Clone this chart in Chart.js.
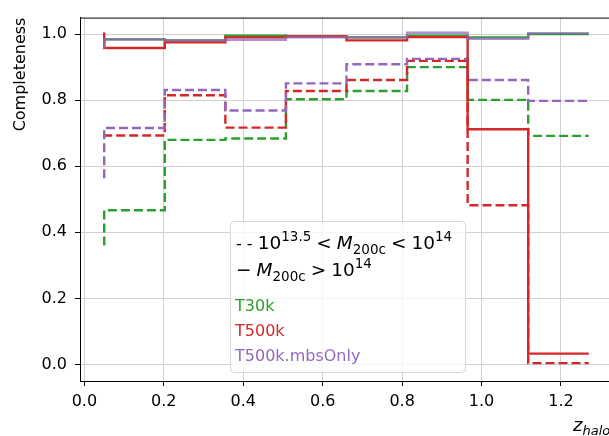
<!DOCTYPE html>
<html>
<head>
<meta charset="utf-8">
<script src="https://cdn.jsdelivr.net/npm/chart.js@4.4.1/dist/chart.umd.min.js"></script>
<style>
  html, body { margin: 0; padding: 0; background: #fff; overflow: hidden; }
  #wrap { position: relative; width: 640px; height: 436px; }
</style>
</head>
<body>
<div id="wrap"><canvas id="c" width="640" height="436"></canvas></div>
<script>
// ---- data ----
const binEdges = [0.05, 0.2025, 0.355, 0.5075, 0.66, 0.8125, 0.965, 1.1175, 1.27];
// first value = start of the step line at the first edge, then one value per bin
const t30kHigh   = [0.975, 0.984, 0.981, 0.995, 0.993, 0.990, 0.995, 0.990, 1.000];
const t500kHigh  = [1.005, 0.958, 0.975, 0.990, 0.993, 0.981, 0.991, 0.712, 0.033];
const mbsHigh    = [0.955, 0.984, 0.981, 0.983, 0.990, 0.990, 1.004, 0.986, 1.003];
const t30kMid    = [0.360, 0.467, 0.680, 0.684, 0.803, 0.828, 0.900, 0.801, 0.692];
const t500kMid   = [0.690, 0.693, 0.815, 0.717, 0.828, 0.861, 0.919, 0.482, 0.004];
const mbsMid     = [0.564, 0.716, 0.831, 0.769, 0.851, 0.909, 0.925, 0.861, 0.798];
const xTickValues = [0.0, 0.2, 0.4, 0.6, 0.8, 1.0, 1.2];
const xTickLabels = ['0.0', '0.2', '0.4', '0.6', '0.8', '1.0', '1.2'];
const yTickValues = [0.0, 0.2, 0.4, 0.6, 0.8, 1.0];
const yTickLabels = ['0.0', '0.2', '0.4', '0.6', '0.8', '1.0'];
const seriesNames = ['T30k', 'T500k', 'T500k.mbsOnly'];

const GREEN = '#2ca02c', RED = '#d62728', PURPLE = '#9467bd';
const FONT = 'DejaVu Sans';

function pts(ys) { return binEdges.map((x, i) => ({x: x, y: ys[i]})); }
function ds(label, ys, color, dashed) {
  return {
    label: label, data: pts(ys), borderColor: color, backgroundColor: color,
    borderWidth: 2.4, borderDash: dashed ? [9, 4] : [], stepped: 'after',
    pointRadius: 0, fill: false, tension: 0
  };
}

function drawRich(ctx, x, y, segs, color) {
  ctx.save();
  ctx.fillStyle = color;
  ctx.textBaseline = 'alphabetic';
  ctx.textAlign = 'left';
  let cx = x;
  for (const s of segs) {
    cx += (s.pre || 0);
    ctx.font = s.f;
    ctx.fillText(s.t, cx, y + (s.dy || 0));
    cx += ctx.measureText(s.t).width + (s.sp || 0);
  }
  ctx.restore();
}

const decor = {
  id: 'decor',
  afterDatasetsDraw(chart) {
    const ctx = chart.ctx, a = chart.chartArea;
    // top spine
    ctx.save();
    ctx.strokeStyle = '#000'; ctx.lineWidth = 1;
    ctx.beginPath();
    ctx.moveTo(a.left, a.top + 0.5); ctx.lineTo(a.right, a.top + 0.5);
    ctx.stroke();
    ctx.restore();

    // legend box
    const bx = 230.5, by = 221.5, bw = 235, bh = 151, r = 4;
    ctx.save();
    ctx.beginPath();
    ctx.moveTo(bx + r, by); ctx.lineTo(bx + bw - r, by); ctx.arcTo(bx + bw, by, bx + bw, by + r, r);
    ctx.lineTo(bx + bw, by + bh - r); ctx.arcTo(bx + bw, by + bh, bx + bw - r, by + bh, r);
    ctx.lineTo(bx + r, by + bh); ctx.arcTo(bx, by + bh, bx, by + bh - r, r);
    ctx.lineTo(bx, by + r); ctx.arcTo(bx, by, bx + r, by, r);
    ctx.closePath();
    ctx.fillStyle = 'rgba(255,255,255,0.8)'; ctx.fill();
    ctx.strokeStyle = '#d6d6d6'; ctx.lineWidth = 1; ctx.stroke();
    ctx.restore();

    const big = '16px ' + FONT, mbig = '18.5px ' + FONT, sm = '13.5px ' + FONT,
          it = 'italic 18.5px ' + FONT;
    drawRich(ctx, 236, 249, [
      {t: '- - ', f: big},
      {t: '10', f: mbig}, {t: '13.5', f: sm, dy: -8},
      {t: '<', f: mbig, pre: 5, sp: 5},
      {t: 'M', f: it}, {t: '200c', f: sm, dy: 4.5},
      {t: '<', f: mbig, pre: 5, sp: 5},
      {t: '10', f: mbig}, {t: '14', f: sm, dy: -8}
    ], '#000');
    drawRich(ctx, 236, 276, [
      {t: '\u2212', f: mbig, sp: 5},
      {t: 'M', f: it}, {t: '200c', f: sm, dy: 4.5},
      {t: '>', f: mbig, pre: 5, sp: 5},
      {t: '10', f: mbig}, {t: '14', f: sm, dy: -8}
    ], '#000');
    const cols = [GREEN, RED, PURPLE];
    const ys = [311, 336, 361];
    seriesNames.forEach((n, i) => drawRich(ctx, 235, ys[i], [{t: n, f: big}], cols[i]));

    // y axis label (aligned to top of axes)
    ctx.save();
    ctx.translate(25, a.top);
    ctx.rotate(-Math.PI / 2);
    ctx.font = '16px ' + FONT; ctx.fillStyle = '#000';
    ctx.textAlign = 'right'; ctx.textBaseline = 'alphabetic';
    ctx.fillText('Completeness', 0, 0);
    ctx.restore();

    // x axis label (aligned to right of axes)
    drawRich(ctx, 573, 431, [
      {t: 'z', f: 'italic 18px ' + FONT},
      {t: 'halo', f: 'italic 13px ' + FONT, dy: 4}
    ], '#000');
  }
};

new Chart(document.getElementById('c'), {
  type: 'line',
  data: {
    datasets: [
      ds('T500k.mbsOnly high', mbsHigh, 'rgba(148,103,189,0.75)', false),
      ds('T500k high', t500kHigh, RED, false),
      ds('T30k high', t30kHigh, GREEN, false),
      ds('T500k.mbsOnly mid', mbsMid, PURPLE, true),
      ds('T500k mid', t500kMid, RED, true),
      ds('T30k mid', t30kMid, GREEN, true)
    ]
  },
  options: {
    responsive: false, animation: false,
    layout: { padding: { left: 0, right: 27, top: 10, bottom: 0 } },
    plugins: { legend: { display: false }, tooltip: { enabled: false } },
    scales: {
      x: {
        type: 'linear', min: -0.011, max: 1.331,
        afterBuildTicks(s) { s.ticks = xTickValues.map(v => ({value: v})); },
        afterFit(s) { s.height = 55; },
        ticks: {
          callback: (v) => { const i = xTickValues.indexOf(v); return i >= 0 ? xTickLabels[i] : ''; },
          font: { family: FONT, size: 16 }, color: '#000', padding: 6, maxRotation: 0, autoSkip: false
        },
        grid: { color: '#d0d0d0', lineWidth: 1, drawTicks: true, tickLength: 5, tickColor: '#000' },
        border: { color: '#000', width: 1 }
      },
      y: {
        type: 'linear', min: -0.05, max: 1.05,
        afterBuildTicks(s) { s.ticks = yTickValues.map(v => ({value: v})); },
        afterFit(s) { s.width = 80; },
        ticks: {
          callback: (v) => { const i = yTickValues.indexOf(v); return i >= 0 ? yTickLabels[i] : ''; },
          font: { family: FONT, size: 16 }, color: '#000', padding: 8, autoSkip: false
        },
        grid: { color: '#d0d0d0', lineWidth: 1, drawTicks: true, tickLength: 5, tickColor: '#000' },
        border: { color: '#000', width: 1 }
      }
    }
  },
  plugins: [decor]
});
</script>
</body>
</html>
